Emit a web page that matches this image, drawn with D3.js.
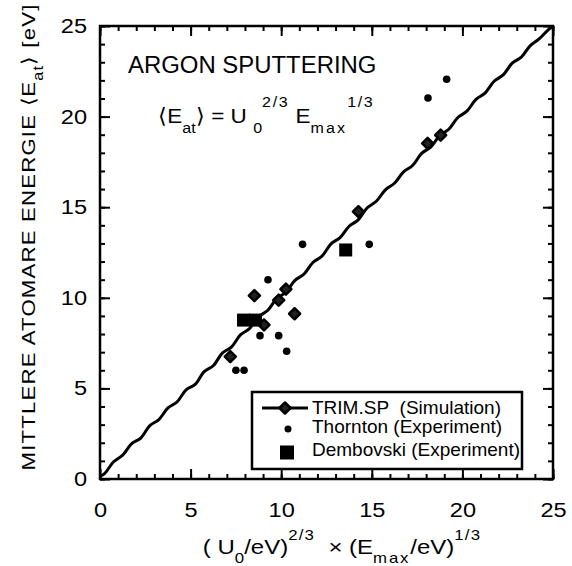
<!DOCTYPE html>
<html>
<head>
<meta charset="utf-8">
<script src="https://cdn.jsdelivr.net/npm/d3@7"></script>
<style>
  body { margin: 0; background: #fff; }
  svg { display: block; font-family: 'Liberation Sans', Arial, Helvetica, sans-serif; }
</style>
</head>
<body>
<svg id="chart" width="572" height="566"></svg>
<script>
// Axis ticks
const majorTicks = [0, 5, 10, 15, 20, 25];
const minorTicks = d3.range(0, 26, 1);

// Wavy TRIM.SP curve
const curveX = [0, 0.25, 0.75, 1.25, 1.75, 2.25, 2.75, 3.25, 3.75, 4.25, 4.75, 5.25, 5.75, 6.25, 6.75,
  7.25, 7.75, 8.25, 8.75, 9.25, 9.75, 10.25, 10.75, 11.25, 11.75, 12.25, 12.75, 13.25, 13.75, 14.25,
  14.75, 15.25, 15.75, 16.25, 16.75, 17.25, 17.75, 18.25, 18.75, 19.25, 19.75, 20.25, 20.75, 21.25,
  21.75, 22.25, 22.75, 23.25, 23.75, 24.25, 24.75, 25];
const curveY = [0.15, 0.3, 0.95, 1.32, 1.95, 2.26, 2.95, 3.28, 3.92, 4.25, 4.92, 5.22, 5.93, 6.25, 6.95,
  7.28, 7.95, 8.3, 8.95, 9.3, 9.95, 10.3, 10.95, 11.3, 11.95, 12.3, 12.98, 13.32, 13.95, 14.3,
  14.97, 15.33, 15.96, 16.32, 16.95, 17.3, 17.97, 18.32, 18.95, 19.3, 19.95, 20.3, 20.95, 21.3,
  21.95, 22.3, 22.95, 23.28, 23.92, 24.3, 24.8, 25];

// TRIM.SP (Simulation)
const trimX = [7.19, 8.52, 9.05, 9.86, 10.26, 10.74, 14.26, 18.08, 18.8];
const trimY = [6.75, 10.12, 8.5, 9.87, 10.48, 9.12, 14.75, 18.52, 18.98];

// Thornton (Experiment)
const thorntonX = [7.5, 7.95, 8.83, 9.86, 10.3, 9.27, 11.18, 14.86, 18.1, 19.13];
const thorntonY = [6.0, 6.0, 7.91, 7.91, 7.05, 11.0, 12.95, 12.95, 21.03, 22.06];

// Dembovski (Experiment)
const dembovskiX = [7.92, 8.58, 13.56];
const dembovskiY = [8.77, 8.77, 12.64];

const margin = { top: 26, left: 100, right: 19, bottom: 87 };
const svg = d3.select('#chart');
const width = +svg.attr('width') - margin.left - margin.right;
const height = +svg.attr('height') - margin.top - margin.bottom;

const x = d3.scaleLinear().domain([0, 25]).range([0, width]);
const y = d3.scaleLinear().domain([0, 25]).range([height, 0]);

// the original lettering is a wide Helvetica; stretch glyphs horizontally
const stretch = 1.15;

const diamond = (r) => `M0,${-r}L${r},0L0,${r}L${-r},0Z`;

const g = svg.append('g').attr('transform', `translate(${margin.left}, ${margin.top})`);

g.call(drawAxes).call(drawCurve).call(drawPoints).call(drawLegend);
svg.call(drawLabels);

function styleAxis(sel) {
  sel.select('.domain').remove();
  sel.selectAll('line').attr('stroke', '#000').attr('stroke-width', 2);
  sel.selectAll('text')
    .attr('font-size', 20.5)
    .attr('fill', '#000')
    .attr('font-family', "'Liberation Sans', Arial, sans-serif")
    .attr('transform', `scale(${stretch}, 1)`);
}

function drawAxes(sel) {
  const blank = () => '';
  sel.append('g').attr('transform', `translate(0, ${height})`)
    .call(d3.axisBottom(x).tickValues(minorTicks).tickSize(-5).tickFormat(blank)).call(styleAxis);
  sel.append('g').attr('transform', `translate(0, ${height})`)
    .call(d3.axisBottom(x).tickValues(majorTicks).tickSize(-10).tickPadding(23)).call(styleAxis);
  sel.append('g')
    .call(d3.axisTop(x).tickValues(minorTicks).tickSize(-5).tickFormat(blank)).call(styleAxis);
  sel.append('g')
    .call(d3.axisTop(x).tickValues(majorTicks).tickSize(-10).tickFormat(blank)).call(styleAxis);
  sel.append('g')
    .call(d3.axisLeft(y).tickValues(minorTicks).tickSize(-5).tickFormat(blank)).call(styleAxis);
  sel.append('g')
    .call(d3.axisLeft(y).tickValues(majorTicks).tickSize(-10).tickPadding(13 / stretch)).call(styleAxis);
  sel.append('g').attr('transform', `translate(${width}, 0)`)
    .call(d3.axisRight(y).tickValues(minorTicks).tickSize(-5).tickFormat(blank)).call(styleAxis);
  sel.append('g').attr('transform', `translate(${width}, 0)`)
    .call(d3.axisRight(y).tickValues(majorTicks).tickSize(-10).tickFormat(blank)).call(styleAxis);

  sel.append('rect')
    .attr('width', width).attr('height', height)
    .attr('fill', 'none').attr('stroke', '#000').attr('stroke-width', 2.5);
}

function drawCurve(sel) {
  const line = d3.line()
    .x((d) => x(d[0]))
    .y((d) => y(d[1]))
    .curve(d3.curveCatmullRom);
  sel.append('path')
    .datum(d3.zip(curveX, curveY))
    .attr('d', line)
    .attr('fill', 'none')
    .attr('stroke', '#000')
    .attr('stroke-width', 3);
}

function drawPoints(sel) {
  sel.append('g').selectAll('circle')
    .data(d3.zip(thorntonX, thorntonY))
    .join('circle')
    .attr('cx', (d) => x(d[0])).attr('cy', (d) => y(d[1]))
    .attr('r', 3.8).attr('fill', '#000');

  sel.append('g').selectAll('path')
    .data(d3.zip(trimX, trimY))
    .join('path')
    .attr('transform', (d) => `translate(${x(d[0])}, ${y(d[1])})`)
    .attr('d', diamond(5.5))
    .attr('fill', '#222').attr('stroke', '#000')
    .attr('stroke-width', 2.5).attr('stroke-linejoin', 'round');

  sel.append('g').selectAll('rect')
    .data(d3.zip(dembovskiX, dembovskiY))
    .join('rect')
    .attr('x', (d) => x(d[0]) - 6.5).attr('y', (d) => y(d[1]) - 6.5)
    .attr('width', 13).attr('height', 13).attr('fill', '#000');
}

function drawLegend(sel) {
  const lg = sel.append('g').attr('transform', 'translate(152, 366)');
  lg.append('rect')
    .attr('width', 270).attr('height', 77)
    .attr('fill', '#fff').attr('stroke', '#000').attr('stroke-width', 2.5);

  const rows = [
    { label: 'TRIM.SP\u00a0\u00a0(Simulation)', dy: 16 },
    { label: 'Thornton (Experiment)', dy: 37 },
    { label: 'Dembovski (Experiment)', dy: 60.5 },
  ];

  lg.append('line')
    .attr('x1', 10).attr('x2', 56).attr('y1', rows[0].dy).attr('y2', rows[0].dy)
    .attr('stroke', '#000').attr('stroke-width', 3);
  lg.append('path')
    .attr('transform', `translate(33, ${rows[0].dy})`)
    .attr('d', diamond(5.5))
    .attr('fill', '#222').attr('stroke', '#000')
    .attr('stroke-width', 2.5).attr('stroke-linejoin', 'round');
  lg.append('circle')
    .attr('cx', 36).attr('cy', rows[1].dy).attr('r', 3.5).attr('fill', '#000');
  lg.append('rect')
    .attr('x', 28).attr('y', rows[2].dy - 7).attr('width', 14).attr('height', 14).attr('fill', '#000');

  lg.selectAll('text.label')
    .data(rows)
    .join('text')
    .attr('class', 'label')
    .attr('x', 60)
    .attr('y', (d, i) => [22, 41, 64][i])
    .attr('font-size', 19)
    .text((d) => d.label);
}

function addSpans(text, parts) {
  parts.forEach((p) => {
    const t = text.append('tspan').text(p.t);
    if (p.fs) t.attr('font-size', p.fs);
    if (p.dy) t.attr('dy', p.dy);
    if (p.dx) t.attr('dx', p.dx);
    if (p.ls) t.attr('letter-spacing', p.ls);
  });
}

function drawLabels(sel) {
  // Title inside the plot
  sel.append('text')
    .attr('transform', 'translate(128, 73) scale(1.04, 1)')
    .attr('font-size', 23)
    .text('ARGON SPUTTERING');

  // Formula
  const eq = sel.append('text')
    .attr('transform', 'translate(158, 123) scale(1.07, 1)')
    .attr('font-size', 21);
  addSpans(eq, [
    { t: '\u27e8E' },
    { t: 'at', fs: 15, dy: 10 },
    { t: '\u27e9 = U', dy: -10 },
    { t: '0', fs: 15, dy: 10, dx: 6 },
    { t: '2/3', fs: 15, dy: -26, ls: 1.5 },
    { t: ' E', dy: 16 },
    { t: 'max', fs: 15, dy: 10, ls: 2 },
    { t: '1/3', fs: 15, dy: -26, ls: 1.5 },
  ]);

  // X axis title
  const xt = sel.append('text')
    .attr('transform', 'translate(342, 554) scale(1.2, 1)')
    .attr('text-anchor', 'middle')
    .attr('font-size', 20);
  addSpans(xt, [
    { t: '( U' },
    { t: '0', fs: 14, dy: 9 },
    { t: '/eV)', dy: -9 },
    { t: '2/3', fs: 14, dy: -14, ls: 1 },
    { t: '\u00a0 \u00d7 (E', dy: 14 },
    { t: 'max', fs: 14, dy: 9, ls: 1.5 },
    { t: '/eV)', dy: -9 },
    { t: '1/3', fs: 14, dy: -14, ls: 1 },
  ]);

  // Y axis title
  const yt = sel.append('text')
    .attr('transform', 'translate(35, 237) rotate(-90) scale(1.17, 1)')
    .attr('text-anchor', 'middle')
    .attr('font-size', 19)
    .attr('letter-spacing', 1);
  addSpans(yt, [
    { t: 'MITTLERE ATOMARE ENERGIE \u27e8E' },
    { t: 'at', fs: 14, dy: 8 },
    { t: '\u27e9 [eV]', dy: -8 },
  ]);
}
</script>
</body>
</html>
